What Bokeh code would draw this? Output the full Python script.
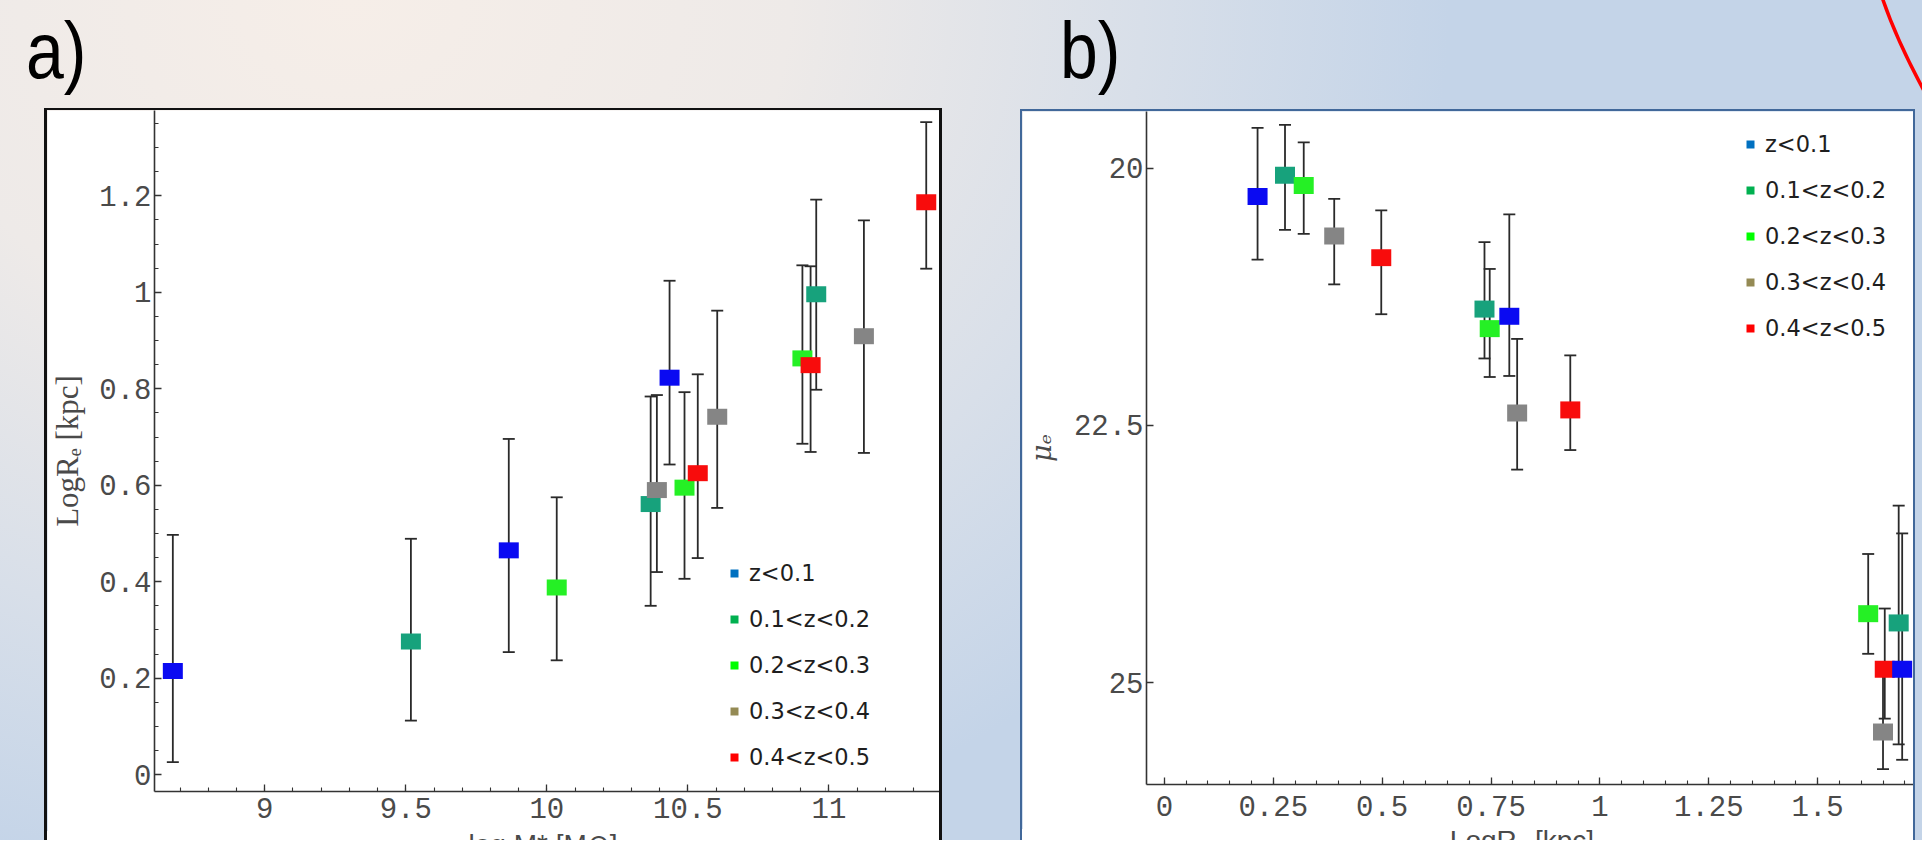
import numpy as np
from bokeh.plotting import figure
from bokeh.models import (ColumnDataSource, Whisker, TeeHead, Legend, LegendItem,
                          FixedTicker, CustomJSTickFormatter, Div, Spacer, Range1d)
from bokeh.layouts import row, column
from bokeh.embed import file_html
from bokeh.resources import INLINE

# ---------------- data ----------------
z_bins = ["z<0.1", "0.1<z<0.2", "0.2<z<0.3", "0.3<z<0.4", "0.4<z<0.5"]
marker_colors = ["#0a0af2", "#17a27c", "#25f025", "#858585", "#f80c0c"]
legend_colors = ["#0070c0", "#00b050", "#00ff00", "#948a54", "#ff0000"]

# panel a) : log M  vs  log Re
a_log_mass = [8.674, 9.518, 9.865, 10.035, 10.368, 10.390, 10.435, 10.488, 10.535,
              10.604, 10.906, 10.935, 10.955, 11.124, 11.345]
a_log_re = [0.215, 0.276, 0.465, 0.388, 0.561, 0.590, 0.823, 0.595, 0.625,
            0.742, 0.863, 0.849, 0.996, 0.909, 1.187]
a_re_low = [0.026, 0.112, 0.254, 0.237, 0.350, 0.420, 0.643, 0.406, 0.449,
            0.553, 0.686, 0.669, 0.798, 0.667, 1.049]
a_re_high = [0.497, 0.489, 0.696, 0.575, 0.784, 0.787, 1.024, 0.793, 0.830,
             0.962, 1.056, 1.054, 1.192, 1.149, 1.353]
a_zbin = ["z<0.1", "0.1<z<0.2", "z<0.1", "0.2<z<0.3", "0.1<z<0.2", "0.3<z<0.4",
          "z<0.1", "0.2<z<0.3", "0.4<z<0.5", "0.3<z<0.4", "0.2<z<0.3", "0.4<z<0.5",
          "0.1<z<0.2", "0.3<z<0.4", "0.4<z<0.5"]
a_xticks = [9, 9.5, 10, 10.5, 11]
a_yticks = [0, 0.2, 0.4, 0.6, 0.8, 1.0, 1.2]

# panel b) : log Re  vs  mu_e
b_log_re = [0.214, 0.277, 0.320, 0.390, 0.498, 0.735, 0.747, 0.792, 0.810, 0.932,
            1.616, 1.650, 1.654, 1.686, 1.694]
b_mu = [20.275, 20.07, 20.17, 20.66, 20.87, 21.37, 21.56, 21.44, 22.38, 22.35,
        24.33, 25.48, 24.87, 24.42, 24.87]
b_mu_low = [19.61, 19.58, 19.75, 20.30, 20.41, 20.72, 20.98, 20.45, 21.66, 21.82,
            23.75, 24.90, 24.28, 23.28, 23.55]
b_mu_high = [20.89, 20.60, 20.64, 21.13, 21.42, 21.85, 22.03, 22.02, 22.93, 22.74,
             24.72, 25.84, 25.35, 25.60, 25.75]
b_zbin = ["z<0.1", "0.1<z<0.2", "0.2<z<0.3", "0.3<z<0.4", "0.4<z<0.5",
          "0.1<z<0.2", "0.2<z<0.3", "z<0.1", "0.3<z<0.4", "0.4<z<0.5",
          "0.2<z<0.3", "0.3<z<0.4", "0.4<z<0.5", "0.1<z<0.2", "z<0.1"]
b_xticks = [0, 0.25, 0.5, 0.75, 1.0, 1.25, 1.5]
b_yticks = [20, 22.5, 25]

a_xlabel = "log M* [M⊙]"
a_ylabel = "LogRₑ [kpc]"
b_xlabel = "LogRₑ [kpc]"
b_ylabel = "μₑ"

# ---------------- styling helpers ----------------
color_of = dict(zip(z_bins, marker_colors))
fmt = CustomJSTickFormatter(code="return String(parseFloat(tick.toFixed(4)));")
TICK_FONT = "Liberation Mono"
AX_COL = "#333333"
TXT_COL = "#4a4a4a"


def style_axes(p, xstand):
    p.grid.visible = False
    for ax in (p.xaxis[0], p.yaxis[0]):
        ax.formatter = fmt
        ax.axis_line_color = AX_COL
        ax.axis_line_width = 1.6
        ax.major_tick_line_color = AX_COL
        ax.minor_tick_line_color = AX_COL
        ax.major_tick_line_width = 1.3
        ax.minor_tick_line_width = 1.1
        ax.major_tick_in = 7
        ax.major_tick_out = 0
        ax.minor_tick_in = 4
        ax.minor_tick_out = 0
        ax.major_label_text_font = TICK_FONT
        ax.major_label_text_font_size = "29px"
        ax.major_label_text_color = TXT_COL
        ax.axis_label_text_color = TXT_COL
    p.xaxis.major_label_standoff = xstand
    p.yaxis.major_label_standoff = 3


def add_points(p, xs, ys, lo, hi, bins, w, h):
    src = ColumnDataSource(dict(x=xs, y=ys, lower=lo, upper=hi,
                                color=[color_of[b] for b in bins], zbin=bins))
    wh = Whisker(base="x", upper="upper", lower="lower", source=src, dimension="height",
                 line_color="#2a2a2a", line_width=1.8,
                 upper_head=TeeHead(size=12, line_color="#2a2a2a", line_width=1.8),
                 lower_head=TeeHead(size=12, line_color="#2a2a2a", line_width=1.8))
    p.add_layout(wh)
    p.rect("x", "y", width=w, height=h, width_units="screen", height_units="screen",
           source=src, fill_color="color", line_color=None)


def add_legend(p, loc):
    items = []
    for name, c in zip(z_bins, legend_colors):
        # legend-only swatch (no visible data point)
        r = p.scatter(x=[np.nan], y=[np.nan], marker="square", size=8,
                      fill_color=c, line_color=None)
        items.append(LegendItem(label=name, renderers=[r]))
    leg = Legend(items=items, location=loc, orientation="vertical",
                 glyph_width=20, glyph_height=26, label_height=26, label_standoff=5,
                 spacing=20, padding=0, margin=0, border_line_color=None,
                 background_fill_alpha=0, label_text_font="DejaVu Sans",
                 label_text_font_size="22.5px", label_text_color="#1e1e1e")
    p.add_layout(leg)


def cut_title(text, width, height, cx, baseline):
    # x-axis title whose lower part runs off the bottom of the slide, as in the original
    return Div(width=width, height=height, margin=0,
               styles={"overflow": "hidden", "background-color": "white"}, text=(
        f'<svg width="{width}" height="{height}" xmlns="http://www.w3.org/2000/svg">'
        f'<rect x="0" y="0" width="{width}" height="{height}" fill="#ffffff"/>'
        f'<text x="{cx}" y="{baseline}" text-anchor="middle" font-family="Liberation Mono" '
        f'font-size="28" fill="{TXT_COL}">{text}</text></svg>'))


# ---------------- panel a ----------------
pa = figure(width=892, height=721, x_range=Range1d(8.609, 11.392), y_range=Range1d(-0.035, 1.377),
            output_backend="svg", toolbar_location=None,
            min_border_left=106, min_border_right=0, min_border_top=0, min_border_bottom=40,
            background_fill_color="white", border_fill_color="white", outline_line_color=None)
style_axes(pa, 6)
pa.xaxis.ticker = FixedTicker(ticks=a_xticks, minor_ticks=list(np.round(np.arange(8.7, 11.4, 0.1), 2)))
pa.yaxis.ticker = FixedTicker(ticks=a_yticks, minor_ticks=list(np.round(np.arange(0, 1.38, 0.05), 2)))
pa.yaxis.axis_label = a_ylabel
pa.yaxis.axis_label_text_font = "Liberation Serif"
pa.yaxis.axis_label_text_font_style = "normal"
pa.yaxis.axis_label_text_font_size = "31px"
pa.yaxis.axis_label_standoff = 11
add_points(pa, a_log_mass, a_log_re, a_re_low, a_re_high, a_zbin, 20, 16)
add_legend(pa, (570, 21))

# ---------------- panel b ----------------
pb = figure(width=891, height=718, x_range=Range1d(-0.041, 1.72), y_range=Range1d(25.99, 19.45),
            output_backend="svg", toolbar_location=None,
            min_border_left=124, min_border_right=0, min_border_top=0, min_border_bottom=45,
            background_fill_color="white", border_fill_color="white", outline_line_color=None)
style_axes(pb, 11)
pb.xaxis.ticker = FixedTicker(ticks=b_xticks, minor_ticks=list(np.round(np.arange(0, 1.72, 0.05), 2)))
pb.yaxis.ticker = FixedTicker(ticks=b_yticks)
pb.yaxis.axis_label = b_ylabel
pb.yaxis.axis_label_text_font = "DejaVu Serif"
pb.yaxis.axis_label_text_font_style = "italic"
pb.yaxis.axis_label_text_font_size = "27px"
pb.yaxis.axis_label_standoff = 14
add_points(pb, b_log_re, b_mu, b_mu_low, b_mu_high, b_zbin, 20, 17)
add_legend(pb, (594, 443))

# ---------------- slide layout ----------------
FONT_HDR = "'Liberation Sans', Arial, sans-serif"
hdr_a = Div(width=942, height=108, margin=0, text=(
    '<svg width="942" height="108" xmlns="http://www.w3.org/2000/svg">'
    f'<text transform="translate(26,78) scale(0.85,1)" font-family="{FONT_HDR}" '
    'font-size="80" fill="#000">a)</text></svg>'))
hdr_b = Div(width=980, height=109, margin=0, text=(
    '<svg width="980" height="109" xmlns="http://www.w3.org/2000/svg">'
    f'<text transform="translate(118,78) scale(0.85,1)" font-family="{FONT_HDR}" '
    'font-size="80" fill="#000">b)</text>'
    '<path d="M 939 -6 Q 954 40 986 98" stroke="#ff0000" stroke-width="3.5" fill="none"/></svg>'))

BLK = {"background-color": "#111111"}
BLU = {"background-color": "#41689a"}

body_a = row(Spacer(width=44, height=732, margin=0),
             Spacer(width=3, height=732, margin=0, styles=BLK),
             column(Spacer(width=892, height=2, margin=0, styles=BLK), pa,
                    cut_title(a_xlabel, 892, 9, 496, 20), spacing=0),
             Spacer(width=3, height=732, margin=0, styles=BLK), spacing=0)
body_b = row(Spacer(width=78, height=731, margin=0),
             Spacer(width=2, height=731, margin=0, styles=BLU),
             column(Spacer(width=891, height=2, margin=0, styles=BLU), pb,
                    cut_title(b_xlabel, 891, 11, 500, 20), spacing=0),
             Spacer(width=2, height=731, margin=0, styles=BLU),
             Spacer(width=7, height=731, margin=0), spacing=0)

col_a = column(hdr_a, body_a, spacing=0)
col_b = column(hdr_b, body_b, spacing=0)

root = row(col_a, col_b, spacing=0, styles={
    "background": "radial-gradient(ellipse 1100px 900px at 350px 0px, #f6eee8 0%, #eeeae8 40%, "
                  "#d8dfe9 72%, #c4d4e8 100%)"})

open("out.html", "w").write(file_html(root, INLINE))
